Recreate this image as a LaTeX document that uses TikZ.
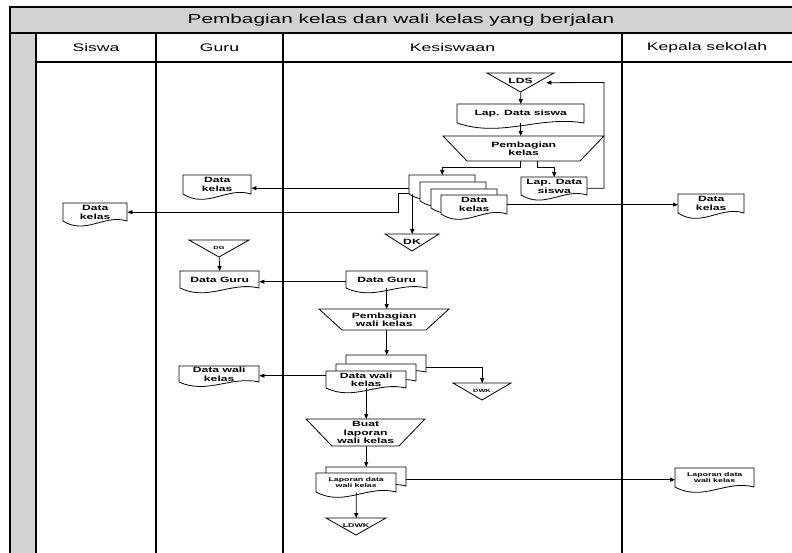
\documentclass[tikz,border=0pt]{standalone}
\usepackage{fontspec}
\setmainfont{Liberation Sans}[FakeStretch=1.6]
\usetikzlibrary{arrows.meta,calc}
\tikzset{
  shp/.style={draw=black, line width=0.8bp, fill=white},
  docn/.style={inner sep=0pt, font=\bfseries\fontsize{7.6bp}{8.6bp}\selectfont, align=center, shape=rectangle},
  smallt/.style={font=\bfseries\fontsize{5.5bp}{6.2bp}\selectfont},
  tinyt/.style={font=\bfseries\fontsize{4.6bp}{5.2bp}\selectfont},
  arr/.style={draw=black, line width=0.8bp, -{Triangle[length=5bp,width=4bp]}},
  frameline/.style={draw=black, line width=1.3bp},
  hdr/.style={inner sep=0pt, font=\fontsize{11bp}{13bp}\selectfont},
  ttl/.style={inner sep=0pt, font=\fontsize{13bp}{15bp}\selectfont},
}
% document shape: [opts]{name}{x}{y}{w}{h}{text}
\newcommand\docat[7][]{%
  \path[shp] (#3,#4) -- (#3+#5,#4) -- (#3+#5,#4+#6) .. controls +(-0.35*#5,-0.4*#6) and +(0.35*#5,0.8*#6) .. (#3,#4+#6) -- cycle;
  \node[docn,minimum width=#5bp,minimum height=#6bp,anchor=north west,#1] (#2) at (#3,#4) {#7};
}
% manual operation: {name}{x}{y}{wtop}{h}{inset}{text}
\newcommand\trapat[7]{%
  \path[shp] (#2,#3) -- (#2+#4,#3) -- (#2+#4-#6,#3+#5) -- (#2+#6,#3+#5) -- cycle;
  \node[docn,minimum width=#4bp,minimum height=#5bp,anchor=north west] (#1) at (#2,#3) {#7};
}
% inverted triangle: [opts]{name}{x}{y}{w}{h}{text}
\newcommand\triat[7][]{%
  \path[shp] (#3,#4) -- (#3+#5,#4) -- (#3+#5/2,#4+#6) -- cycle;
  \node[inner sep=0pt,minimum width=#5bp,minimum height=#6bp,anchor=north west] (#2) at (#3,#4) {};
  \node[docn,#1] (#2-t) at (#3+#5/2,#4+0.44*#6) {#7};
}
\begin{document}
\begin{tikzpicture}[x=1bp,y=-1bp]
\useasboundingbox (0,0) rectangle (792,553);
% frame
\fill[gray!35] (10,7) rectangle (800,33);
\fill[gray!35] (10,33) rectangle (36,560);
\draw[frameline] (800,7) -- (10,7) -- (10,560);
\draw[frameline] (10,33) -- (800,33);
\draw[frameline] (36,62) -- (800,62);
\foreach \x in {36,156,283,622} \draw[frameline] (\x,33) -- (\x,560);
\node[ttl] (title) at (401,20) {Pembagian kelas dan wali kelas yang berjalan};
\node[hdr] (hsiswa) at (96,47.5) {Siswa};
\node[hdr] (hguru) at (219.5,47.5) {Guru};
\node[hdr] (hkes) at (452.5,47.5) {Kesiswaan};
\node[hdr] (hkep) at (707,47.5) {Kepala sekolah};

% Kesiswaan upper
\triat{lds}{487}{73}{67}{19}{LDS}
\docat{lapds}{457}{104}{127}{19}{Lap. Data siswa}
\trapat{trapa}{443}{136}{161}{25}{24}{Pembagian\\kelas}
\docat{ka}{409}{175}{66}{19}{}
\docat{kb}{420}{182}{66}{19}{}
\docat{kc}{431}{189}{66}{19}{}
\docat{kd}{441}{195}{66}{19}{Data\\kelas}
\docat{lds2}{521}{177}{66}{18}{Lap. Data\\siswa}
\triat{dk}{385}{234}{54}{17}{DK}

% Siswa / Guru / Kepala
\docat{sdk}{63}{203}{64}{18}{Data\\kelas}
\docat{gdk}{183}{175}{68}{19}{Data\\kelas}
\docat{kdk}{678}{194}{66}{19}{Data\\kelas}
\triat[tinyt]{dg}{189}{240}{60}{17}{DG}
\docat{gdg}{180}{271}{79}{17}{Data Guru}
\docat{gdw}{179}{366}{80}{16}{Data wali\\kelas}

% Kesiswaan middle
\docat{kdg}{346}{271}{81}{17}{Data Guru}
\trapat{trapb}{319}{309}{130}{21}{23}{Pembagian\\wali kelas}
\docat{wb}{346}{355}{80}{17}{}
\docat{wm}{336}{364}{80}{17}{}
\docat{wf}{326}{371}{80}{17}{Data wali\\kelas}
\triat[tinyt]{dwk}{453}{383}{58}{17}{DWK}

% Kesiswaan lower
\trapat{trapc}{306}{419}{119}{27}{26}{Buat\\laporan\\wali kelas}
\docat{lb}{326}{467}{80}{19}{}
\docat[smallt]{lf}{316}{473}{80}{19}{Laporan data\\wali kelas}
\triat[smallt]{ldwk}{326}{518}{60}{17}{LDWK}
\docat[smallt]{kld}{675}{468}{79}{19}{Laporan data\\wali kelas}

% connectors
\coordinate (fb) at (604,82.5);
\draw[arr] (lds.south) -- (lapds.north);
\draw[arr] (lapds.south) -- (lapds.south |- trapa.north);
\draw[arr] (lapds.south |- trapa.south) -- ++(0,6) -| (ka.north);
\draw[arr] ([xshift=14bp]trapa.south) -- ++(0,6) -| (lds2.north);
\draw[arr] ([yshift=-2bp]lds2.east) -| (fb) -- ([xshift=-8bp]lds.east);
\draw[arr] ([yshift=-3.5bp]ka.west) coordinate (t1) -- (t1 -| gdk.east);
\draw[arr] ([yshift=-8.5bp]ka.west) -- ++(-11,0) |- (sdk.east);
\draw[arr] (ka.south -| dk.north) -- (dk.north);
\draw[arr] (kd.east) -- (kd.east -| kdk.west);
\draw[arr] (dg.south) -- (gdg.north);
\draw[arr] ([yshift=-2bp]kdg.west) coordinate (t2) -- (t2 -| gdg.east);
\draw[arr] (kdg.south) -- (kdg.south |- trapb.north);
\draw[arr] (kdg.south |- trapb.south) -- (kdg.south |- wb.north);
\draw[arr] ([yshift=4bp]wf.west) coordinate (t3) -- (t3 -| gdw.east);
\draw[arr] ([yshift=-4bp]wb.east) -| (dwk.north);
\draw[arr] (wf.south) -- (wf.south |- trapc.north);
\draw[arr] (wf.south |- trapc.south) -- (wf.south |- lb.north);
\draw[arr] ([yshift=-3bp]lb.east) coordinate (t4) -- (t4 -| kld.west);
\draw[arr] (lf.south) -- (ldwk.north);
\end{tikzpicture}
\end{document}
